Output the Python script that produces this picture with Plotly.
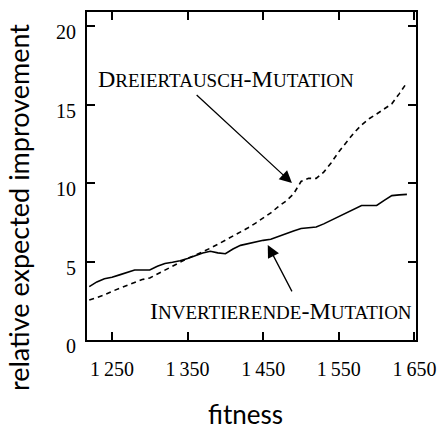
import plotly.graph_objects as go

fitness = [1220, 1230, 1240, 1250, 1260, 1270, 1280, 1290, 1300, 1310, 1320, 1330, 1340,
           1350, 1360, 1370, 1380, 1390, 1400, 1410, 1420, 1430, 1440, 1450, 1460, 1470,
           1480, 1490, 1500, 1510, 1520, 1530, 1540, 1550, 1560, 1570, 1580, 1590, 1600,
           1610, 1620, 1630, 1640]

dreiertausch = [2.55, 2.7, 2.87, 3.1, 3.3, 3.5, 3.7, 3.85, 3.95, 4.2, 4.45, 4.75, 5.0,
                5.2, 5.4, 5.6, 5.85, 6.1, 6.35, 6.6, 6.9, 7.15, 7.45, 7.75, 8.1, 8.5,
                8.85, 9.3, 10.1, 10.3, 10.3, 10.7, 11.3, 12.0, 12.6, 13.2, 13.7, 14.1, 14.4,
                14.7, 15.05, 15.7, 16.4]

invertierende = [3.4, 3.7, 3.9, 4.0, 4.15, 4.3, 4.46, 4.46, 4.46, 4.7, 4.88, 4.95, 5.05,
                 5.2, 5.38, 5.55, 5.65, 5.55, 5.5, 5.8, 6.03, 6.15, 6.25, 6.35, 6.42, 6.6,
                 6.8, 6.95, 7.1, 7.15, 7.2, 7.4, 7.64, 7.9, 8.13, 8.35, 8.57, 8.57, 8.57,
                 8.9, 9.2, 9.25, 9.28]

x_tickvals = [1250, 1350, 1450, 1550, 1650]
x_ticktext = ["1\u2009250", "1\u2009350", "1\u2009450", "1\u2009550", "1\u2009650"]
y_tickvals = [0, 5, 10, 15, 20]
y_ticktext = ["0", "5", "10", "15", "20"]

serif = "Liberation Serif"
sans = "Lato"

fig = go.Figure()
fig.add_trace(go.Scatter(x=fitness, y=dreiertausch, mode="lines",
                         line=dict(color="black", width=1.6, dash="5px,4px"),
                         showlegend=False))
fig.add_trace(go.Scatter(x=fitness, y=invertierende, mode="lines",
                         line=dict(color="black", width=1.6),
                         showlegend=False))

sc = "<span style='font-size:19px'>"
fig.add_annotation(x=1401, y=16.6, xref="x", yref="y", showarrow=False,
                   text="D" + sc + "REIERTAUSCH</span>-M" + sc + "UTATION</span>",
                   font=dict(family=serif, size=24, color="black"))
fig.add_annotation(x=1473, y=1.85, xref="x", yref="y", showarrow=False,
                   text="I" + sc + "NVERTIERENDE</span>-M" + sc + "UTATION</span>",
                   font=dict(family=serif, size=24, color="black"))

fig.add_annotation(x=1488, y=10.0, ax=1360, ay=15.7, xref="x", yref="y",
                   axref="x", ayref="y", showarrow=True, arrowhead=2,
                   arrowsize=1.9, arrowwidth=1.3, arrowcolor="black", text="")
fig.add_annotation(x=1456, y=6.05, ax=1489, ay=3.0, xref="x", yref="y",
                   axref="x", ayref="y", showarrow=True, arrowhead=2,
                   arrowsize=1.9, arrowwidth=1.3, arrowcolor="black", text="")

# y tick labels (set slightly below their ticks, as in the original)
for v, t in zip(y_tickvals, y_ticktext):
    fig.add_annotation(x=0, y=v, xref="paper", yref="y", showarrow=False, text=t,
                       xanchor="right", yanchor="middle", xshift=-9, yshift=-6,
                       font=dict(family=serif, size=20, color="black"))

# axis titles placed as text
fig.add_annotation(x=-0.21, y=0.405, xref="paper", yref="paper", showarrow=False,
                   text="relative expected improvement", textangle=-90,
                   xanchor="center", yanchor="middle",
                   font=dict(family=sans, size=27, color="black"))
fig.add_annotation(x=0.483, y=-0.226, xref="paper", yref="paper", showarrow=False,
                   text="fitness", xanchor="center", yanchor="middle",
                   font=dict(family=sans, size=26, color="black"))

axis_common = dict(showline=True, linecolor="black", linewidth=2, mirror="ticks",
                   ticks="inside", ticklen=8, tickwidth=2, tickcolor="black",
                   showgrid=False, zeroline=False, automargin=False)

fig.update_xaxes(range=[1217, 1652], tickvals=x_tickvals, ticktext=x_ticktext,
                 tickfont=dict(family=serif, size=20, color="black"),
                 ticklabelstandoff=10,
                 **axis_common)
fig.update_yaxes(range=[0, 20.9], tickvals=y_tickvals, showticklabels=False,
                 **axis_common)

fig.update_layout(width=442, height=429, margin=dict(l=87, r=26, t=12, b=89),
                  plot_bgcolor="white", paper_bgcolor="white")

fig.write_html("out.html")
